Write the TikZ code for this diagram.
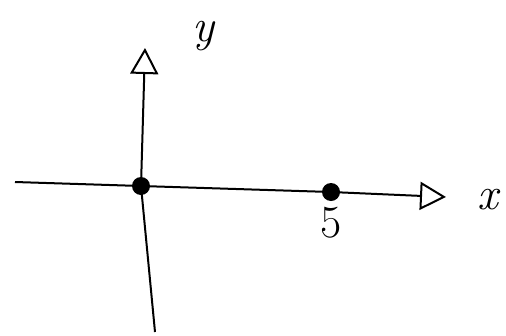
\documentclass[tikz,border=0pt]{standalone}
\usepackage{fontspec}
\usetikzlibrary{arrows.meta,positioning}
\begin{document}
\begin{tikzpicture}[x=1pt,y=-1pt,
    axis/.style={line width=2pt, -{Triangle[open,length=26pt,width=28pt,line width=2pt]}},
    dot/.style={circle, fill=black, inner sep=0pt, minimum size=18pt},
    lbl/.style={font=\fontsize{46}{46}\selectfont\itshape}
  ]
  \useasboundingbox (0,0) rectangle (506,335);
  % ends of the axes
  \coordinate (xl) at (15,182);
  \coordinate (xr) at (446,197);
  \coordinate (yb) at (155,332);
  \coordinate (yt) at (145,48);
  % points on the x axis
  \node[dot] (o) at (141,186) {};
  \node[dot] (five) at (331,192) {};
  \node[lbl, below=2pt of five] (fivelbl) {\upshape 5};
  \node[lbl] (ylbl) at (203,36) {y};
  \node[lbl] (xlbl) at (488,200) {x};

  \draw[axis] (xl) -- (o.center) -- (five.center) -- (xr);
  \draw[axis] (yb) -- (o.center) -- (yt);
\end{tikzpicture}
\end{document}
